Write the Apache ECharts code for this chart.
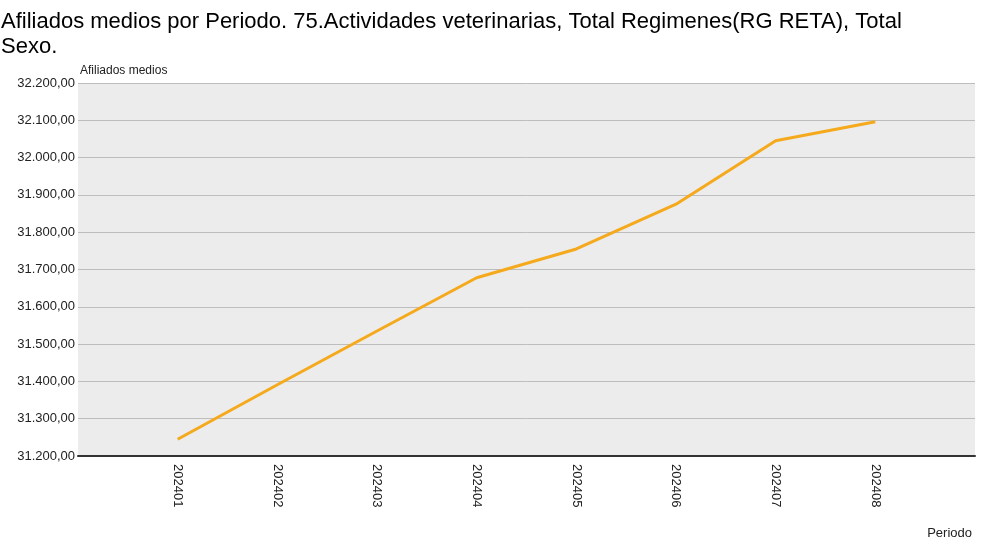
<!DOCTYPE html>
<html><head><meta charset="utf-8">
<script src="https://cdn.jsdelivr.net/npm/echarts@6/dist/echarts.min.js"></script>
<style>html,body{margin:0;padding:0;background:#fff}#c{width:989px;height:559px}</style>
</head><body><div id="c"></div>
<script>
var titleText = 'Afiliados medios por Periodo. 75.Actividades veterinarias, Total Regimenes(RG RETA), Total\nSexo.';
var yAxisName = 'Afiliados medios';
var xAxisName = 'Periodo';
var periods = ['202401','202402','202403','202404','202405','202406','202407','202408'];
var afiliados = [31245, 31391, 31535, 31678, 31755, 31875, 32045, 32096];
var yMin = 31200, yMax = 32200, yStep = 100;

function fmt(v){
  var s = Math.round(v).toString();
  s = s.replace(/\B(?=(\d{3})+(?!\d))/g, '.');
  return s + ',00';
}
var cats = [''].concat(periods, ['']);
var vals = [null].concat(afiliados, [null]);

var chart = echarts.init(document.getElementById('c'));
chart.setOption({
  animation: false,
  backgroundColor: '#fff',
  title: {
    text: titleText, left: 1, top: 9, padding: 0,
    textStyle: {fontFamily: 'Liberation Sans', fontSize: 22, fontWeight: 'normal', color: '#000', lineHeight: 25}
  },
  grid: {left: 78, right: 14, top: 83, bottom: 103, show: true, backgroundColor: '#ececec', borderWidth: 0},
  xAxis: {
    type: 'category', data: cats, boundaryGap: false,
    axisLine: {show: true, lineStyle: {color: '#333', width: 2}},
    axisTick: {show: false},
    splitLine: {show: false},
    axisLabel: {rotate: -90, margin: 8, fontFamily: 'Liberation Sans', fontSize: 13, color: '#222', interval: 0}
  },
  yAxis: {
    type: 'value', min: yMin, max: yMax, interval: yStep,
    name: yAxisName, nameLocation: 'end', nameGap: 11,
    nameTextStyle: {align: 'left', verticalAlign: 'middle', fontFamily: 'Liberation Sans', fontSize: 12, color: '#222', padding: [0,0,0,2]},
    axisLine: {show: false}, axisTick: {show: false},
    splitLine: {show: true, lineStyle: {color: '#bdbdbd', width: 1}},
    axisLabel: {formatter: fmt, margin: 3, fontFamily: 'Liberation Sans', fontSize: 13, color: '#222'}
  },
  graphic: [{
    type: 'text', right: 17, top: 527,
    style: {text: xAxisName, font: '13px "Liberation Sans"', fill: '#222'}
  }],
  series: [{
    type: 'line', data: vals, showSymbol: false, symbol: 'none',
    lineStyle: {color: '#f5a91c', width: 3}, connectNulls: false
  }]
});
</script></body></html>
